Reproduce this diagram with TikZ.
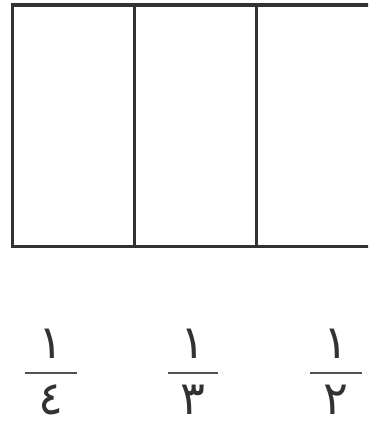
\documentclass[tikz,border=0pt]{standalone}
\usepackage{fontspec}
\newfontfamily\arabicfont[Script=Arabic]{DejaVu Sans}
\usetikzlibrary{positioning}
\definecolor{inkgray}{RGB}{50,50,50}

\tikzset{
  cell/.style={rectangle, draw=inkgray, line width=2.2pt, outer sep=0pt,
               minimum width=3.05cm, minimum height=6.03cm},
  digit/.style={inner sep=0pt, text=inkgray, font=\arabicfont\fontsize{33}{40}\selectfont},
  fracbar/.style={line width=1.6pt, inkgray!85}
}

\begin{document}
\begin{tikzpicture}
\useasboundingbox (0,0) rectangle (9.2,10.65);
\clip (0,0) rectangle (9.2,10.65);

% Strip of three parts
\node[cell] (quarter) at (1.83,7.51) {};
\node[cell, right=0pt of quarter] (third) {};
\node[cell, right=0pt of third] (half) {};

% Fractions
\node[digit] (num4) at (1.28,2.06) {١};
\node[digit] (den4) at (1.28,0.65) {٤};
\draw[fracbar] (0.63,1.33) -- (1.93,1.33);

\node[digit] (num3) at (4.83,2.06) {١};
\node[digit] (den3) at (4.83,0.65) {٣};
\draw[fracbar] (4.2,1.33) -- (5.45,1.33);

\node[digit] (num2) at (8.4,2.06) {١};
\node[digit] (den2) at (8.4,0.65) {٢};
\draw[fracbar] (7.75,1.33) -- (9.05,1.33);

\end{tikzpicture}
\end{document}
